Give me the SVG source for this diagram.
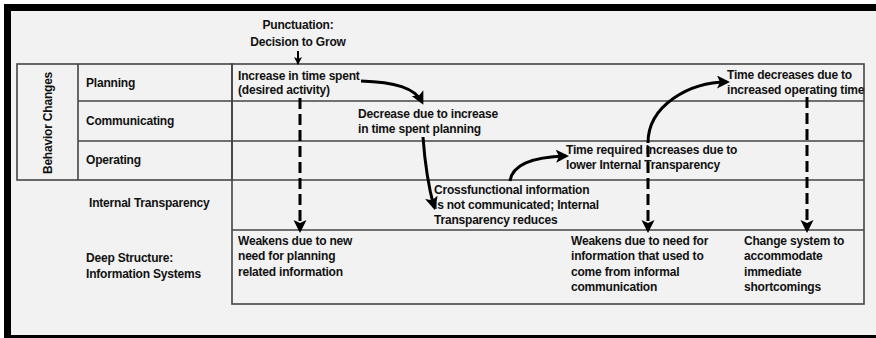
<svg xmlns="http://www.w3.org/2000/svg" width="876" height="338" viewBox="0 0 876 338">
  <style>
    text { font-family: "Liberation Sans", Arial, sans-serif; font-weight: bold; font-size: 12px; fill: #111; letter-spacing: -0.2px; }
    .grid { fill: none; stroke: #444; stroke-width: 1.6; }
    .solid { fill: none; stroke: #000; stroke-width: 3; }
    .dash { fill: none; stroke: #000; stroke-width: 3; stroke-dasharray: 11 5; }
  </style>
  <defs>
    <marker id="head" markerUnits="userSpaceOnUse" markerWidth="14" markerHeight="14" refX="10" refY="6.5" orient="auto">
      <path d="M0,0 L13,6.5 L0,13 L3,6.5 z" fill="#000"/>
    </marker>
    <marker id="headSmall" markerUnits="userSpaceOnUse" markerWidth="10" markerHeight="10" refX="7" refY="4" orient="auto">
      <path d="M0,0 L8,4 L0,8 L2,4 z" fill="#000"/>
    </marker>
  </defs>

  <!-- frame -->
  <rect x="0" y="0" width="876" height="338" fill="#fff"/>
  <rect x="4" y="4" width="872" height="334" fill="#000"/>
  <rect x="11" y="11" width="865" height="324" fill="#f2f2f2"/>

  <!-- table grid -->
  <g id="grid">
    <rect class="grid" x="17" y="64" width="215" height="116"/>
    <line class="grid" x1="78" y1="64" x2="78" y2="180"/>
    <line class="grid" x1="78" y1="101" x2="232" y2="101"/>
    <line class="grid" x1="78" y1="141" x2="232" y2="141"/>
    <rect class="grid" x="232" y="64" width="632" height="240"/>
    <line class="grid" x1="232" y1="101" x2="864" y2="101"/>
    <line class="grid" x1="232" y1="141" x2="864" y2="141"/>
    <line class="grid" x1="232" y1="180" x2="864" y2="180"/>
    <line class="grid" x1="232" y1="230" x2="864" y2="230"/>
  </g>

  <!-- row labels -->
  <g id="row-labels">
    <text transform="translate(52,123) rotate(-90)" text-anchor="middle">Behavior Changes</text>
    <text x="86" y="87">Planning</text>
    <text x="86" y="125">Communicating</text>
    <text x="86" y="164">Operating</text>
    <text x="89" y="207">Internal Transparency</text>
    <text x="86" y="262">Deep Structure:</text>
    <text x="86" y="278">Information Systems</text>
  </g>

  <g id="punctuation">
    <text x="298" y="29" text-anchor="middle">Punctuation:</text>
    <text x="298" y="46" text-anchor="middle">Decision to Grow</text>
  </g>

  <g id="planning-increase">
    <text x="238" y="80">Increase in time spent</text>
    <text x="238" y="94">(desired activity)</text>
  </g>

  <g id="communicating-decrease">
    <text x="358" y="118">Decrease due to increase</text>
    <text x="358" y="133">in time spent planning</text>
  </g>

  <g id="operating-increase">
    <text x="566" y="154">Time required increases due to</text>
    <text x="566" y="169">lower Internal Transparency</text>
  </g>

  <g id="transparency-reduces">
    <text x="434" y="194">Crossfunctional information</text>
    <text x="434" y="209">is not communicated; Internal</text>
    <text x="434" y="224">Transparency reduces</text>
  </g>

  <g id="planning-decrease">
    <text x="727" y="79">Time decreases due to</text>
    <text x="727" y="94">increased operating time</text>
  </g>

  <g id="deep-weakens-planning">
    <text x="238" y="245">Weakens due to new</text>
    <text x="238" y="260">need for planning</text>
    <text x="238" y="276">related information</text>
  </g>

  <g id="deep-weakens-informal">
    <text x="571" y="245">Weakens due to need for</text>
    <text x="571" y="260">information that used to</text>
    <text x="571" y="276">come from informal</text>
    <text x="571" y="291">communication</text>
  </g>

  <g id="deep-change-system">
    <text x="744" y="245">Change system to</text>
    <text x="744" y="260">accommodate</text>
    <text x="744" y="276">immediate</text>
    <text x="744" y="291">shortcomings</text>
  </g>

  <!-- connectors -->
  <g id="connectors">
    <path class="solid" style="stroke-width:2" d="M298,51 L298,64" marker-end="url(#headSmall)"/>
    <path class="dash" d="M300,98 L300,230" marker-end="url(#head)"/>
    <path class="solid" d="M361,81 C395,82 415,88 422,102" marker-end="url(#head)"/>
    <path class="solid" d="M423,137 C425,165 428,185 434,207" marker-end="url(#head)"/>
    <path class="solid" d="M510,181 C512,166 530,157 566,156" marker-end="url(#head)"/>
    <path class="solid" d="M648,143 C648,105 690,82 727,82" marker-end="url(#head)"/>
    <path class="dash" d="M648,146 L648,230" marker-end="url(#head)"/>
    <path class="dash" d="M807,97 L807,230" marker-end="url(#head)"/>
  </g>
</svg>
